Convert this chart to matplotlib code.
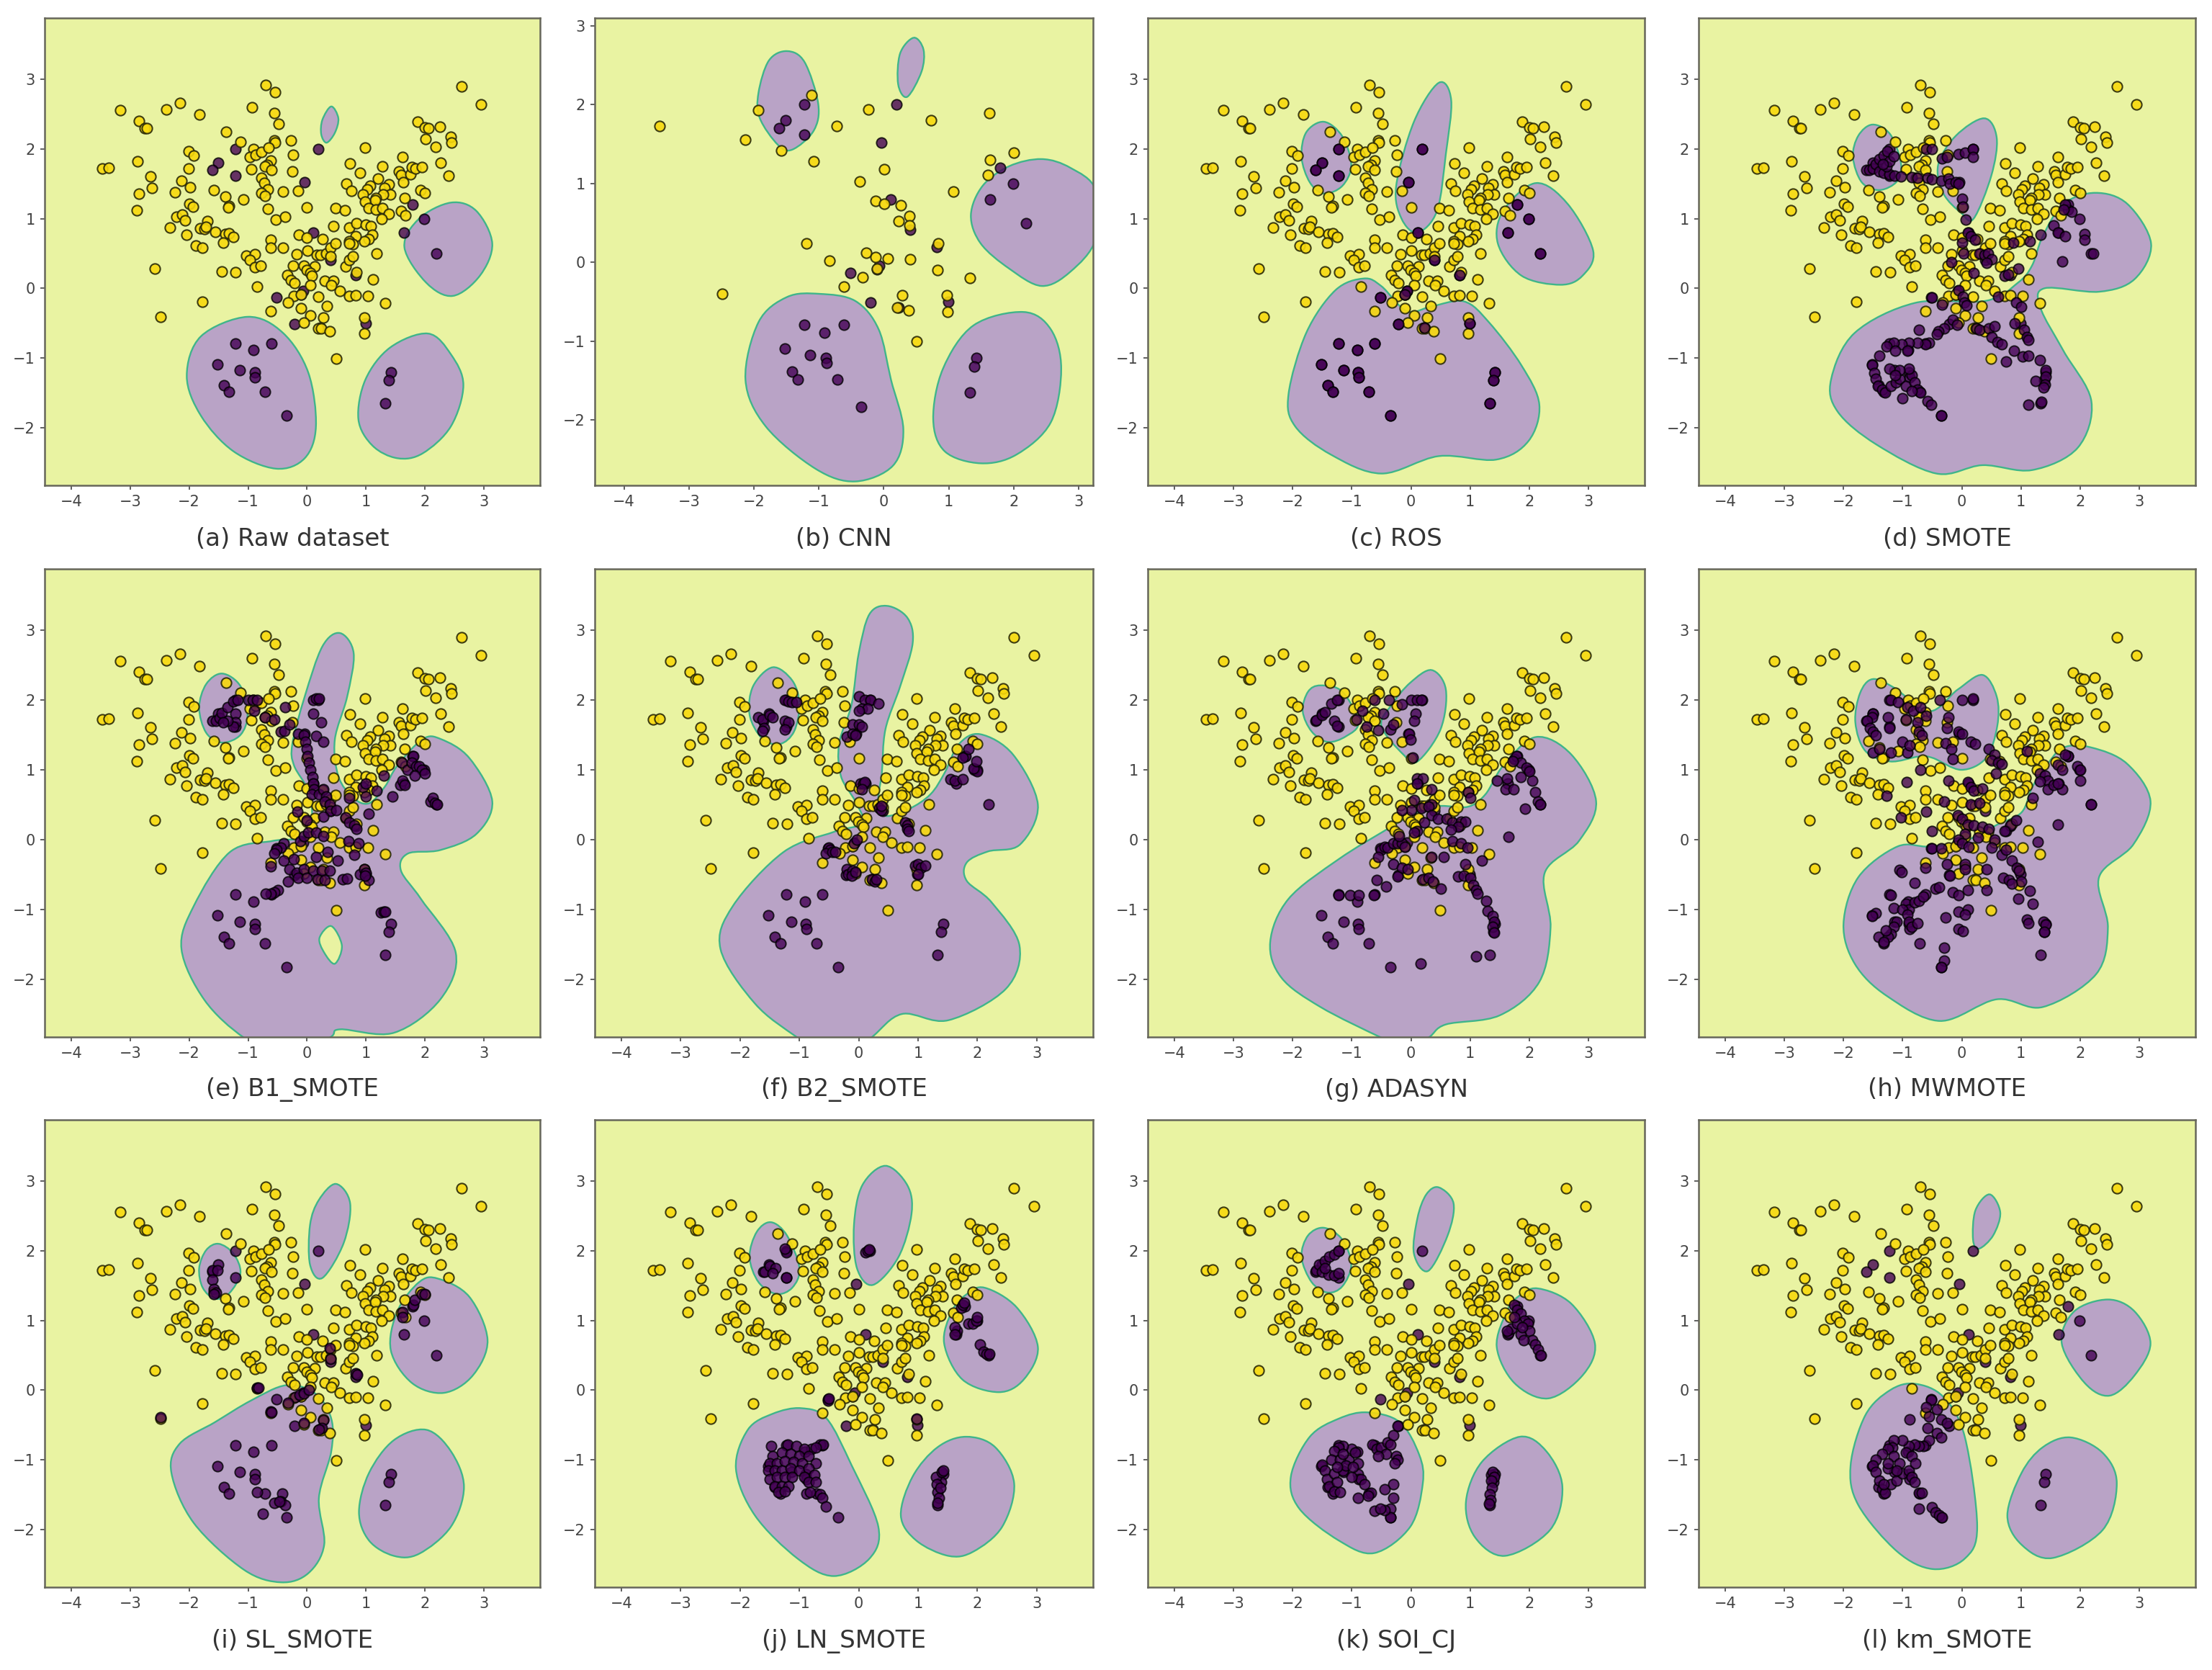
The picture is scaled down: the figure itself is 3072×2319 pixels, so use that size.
import matplotlib
matplotlib.use("Agg")
import matplotlib.pyplot as plt
from matplotlib.path import Path
from matplotlib.patches import PathPatch
import numpy as np

# === Points ===
majority = [(-0.70,2.92),(-0.54,2.81),(2.62,2.90),(2.95,2.64),(-3.17,2.56),(-2.39,2.57),(-2.16,2.66),(-1.82,2.49),
    (-0.93,2.60),(-0.55,2.52),(-0.48,2.36),(-2.85,2.40),(-2.75,2.30),(-2.72,2.30),(-1.37,2.25),(-1.13,2.10),
    (-0.56,2.12),(-0.54,2.09),(-0.27,2.12),(-0.24,1.92),(-0.91,2.00),(-0.97,1.88),(-0.87,1.92),(-0.77,1.96),
    (-0.65,2.02),(-0.62,1.83),(-0.68,1.77),(-0.72,1.75),(-0.61,1.70),(-0.94,1.71),(-0.25,1.68),(-2.01,1.97),
    (-1.92,1.91),(-2.88,1.82),(-2.01,1.72),(-3.47,1.72),(-3.36,1.73),(-2.66,1.61),(-2.63,1.44),(-2.85,1.36),
    (-2.89,1.12),(-2.13,1.54),(-2.24,1.38),(-1.98,1.45),(-1.58,1.41),(-1.39,1.32),(-1.32,1.18),(-1.34,1.16),
    (-1.08,1.27),(-1.99,1.21),(-1.93,1.17),(-0.77,1.58),(-0.73,1.51),(-0.67,1.42),(-0.77,1.37),(-0.71,1.33),
    (-0.41,1.39),(-0.15,1.40),(-0.66,1.14),(-0.53,0.99),(-0.37,1.03),(0.00,1.16),(0.48,1.15),(0.64,1.12),
    (0.45,0.89),(0.67,1.50),(0.75,1.40),(0.73,1.79),(0.90,1.66),(0.98,2.02),(1.28,1.75),(1.62,1.88),
    (1.56,1.68),(1.59,1.63),(1.63,1.52),(1.75,1.64),(1.78,1.74),(1.84,1.72),(1.95,1.74),(1.88,2.39),
    (2.00,2.31),(2.06,2.30),(2.25,2.32),(2.01,2.14),(2.18,2.03),(2.43,2.17),(2.45,2.09),(2.27,1.80),
    (2.40,1.62),(1.92,1.41),(2.00,1.37),(1.20,1.57),(1.07,1.47),(1.02,1.42),(1.38,1.49),(1.31,1.44),
    (1.41,1.35),(1.29,1.35),(1.17,1.30),(1.15,1.26),(0.95,1.35),(0.98,1.24),(1.04,1.15),(1.17,1.13),
    (1.28,1.15),(1.38,1.07),(1.27,1.00),(1.65,1.30),(1.59,1.11),(1.67,1.05),(-2.22,1.03),(-2.12,1.06),
    (-2.07,0.97),(-2.33,0.87),(-2.04,0.77),(-1.88,0.61),(-1.78,0.58),(-1.69,0.96),(-1.81,0.86),(-1.74,0.85),
    (-1.71,0.88),(-1.56,0.81),(-1.39,0.78),(-1.32,0.79),(-1.25,0.74),(-1.42,0.65),(-2.58,0.28),(-2.49,-0.41),
    (-1.45,0.24),(-1.21,0.23),(-1.03,0.47),(-0.88,0.49),(-0.97,0.41),(-0.88,0.30),(-0.79,0.32),(-0.85,0.02),
    (-1.78,-0.19),(-0.62,0.70),(-0.62,0.58),(-0.41,0.58),(-0.14,0.77),(0.00,0.73),(0.26,0.71),(-0.18,0.49),
    (0.01,0.54),(0.17,0.48),(0.23,0.48),(0.32,0.50),(0.40,0.58),(0.48,0.64),(0.40,0.46),(-0.24,0.32),
    (-0.05,0.32),(0.13,0.31),(-0.01,0.26),(0.05,0.22),(-0.33,0.19),(0.08,0.18),(-0.27,0.12),(-0.21,0.08),
    (0.05,0.04),(0.30,0.11),(0.44,0.11),(0.41,0.04),(0.55,-0.04),(0.72,-0.11),(0.82,-0.10),(1.03,-0.11),
    (1.12,0.13),(1.32,-0.21),(0.19,-0.12),(-0.22,-0.11),(-0.10,-0.09),(-0.32,-0.20),(-0.10,-0.29),(0.33,-0.26),
    (-0.62,-0.33),(0.05,-0.39),(0.27,-0.42),(-0.06,-0.49),(0.19,-0.58),(0.24,-0.58),(0.38,-0.62),(0.97,-0.42),
    (0.97,-0.65),(0.49,-1.01),(0.65,0.31),(0.72,0.41),(0.78,0.46),(0.84,0.23),(1.18,0.50),(0.72,0.87),
    (0.84,0.93),(0.99,0.91),(1.08,0.89),(1.10,0.77),(1.04,0.71),(0.97,0.68),(0.82,0.75),(0.72,0.68),
    (0.78,0.63),(0.72,0.64)]

majority_cnn = [(-3.45,1.73),(-2.49,-0.40),(-2.13,1.56),(-1.93,1.93),(-1.11,2.12),(-1.58,1.42),(-1.08,1.28),(-0.73,1.73),
    (-0.24,1.94),(0.73,1.80),(1.62,1.89),(2.00,1.39),(1.64,1.30),(1.60,1.11),(1.07,0.90),(0.01,1.18),
    (-0.37,1.03),(-0.13,0.78),(0.01,0.74),(0.26,0.72),(0.39,0.59),(0.23,0.52),(0.39,0.47),(-1.19,0.24),
    (-0.84,0.02),(-0.27,0.12),(-0.13,0.07),(0.06,0.05),(0.41,0.04),(0.84,0.24),(-0.10,-0.08),(-0.33,-0.19),
    (-0.61,-0.31),(0.83,-0.10),(1.32,-0.20),(0.28,-0.42),(0.21,-0.57),(0.38,-0.61),(0.97,-0.42),(0.98,-0.63),
    (0.50,-1.00)]

minority = [(-1.22,2.00),(0.19,2.00),(-1.51,1.80),(-1.61,1.70),(-1.22,1.62),(-0.04,1.52),(1.79,1.20),(1.99,1.00),
    (1.64,0.80),(2.19,0.50),(0.11,0.80),(0.40,0.41),(0.82,0.19),(-0.07,-0.04),(-0.52,-0.13),(-0.10,-0.09),
    (-0.21,-0.51),(0.23,-0.57),(0.99,-0.50),(-1.22,-0.79),(-0.91,-0.89),(-0.61,-0.79),(-1.52,-1.09),(-1.14,-1.18),
    (-0.89,-1.21),(-0.88,-1.28),(-1.41,-1.39),(-1.32,-1.49),(-0.71,-1.49),(-0.35,-1.83),(1.42,-1.21),(1.39,-1.32),
    (1.33,-1.65)]

# minority samples added by each method
new_ros = minority
new_smote = [(-1.56,1.70),(-1.50,1.72),(-1.45,1.78),(-1.40,1.85),(-1.32,1.91),(-1.26,1.97),(-1.40,1.68),(-1.32,1.66),
    (-1.22,1.64),(-1.14,1.62),(-1.27,1.75),(-1.22,1.82),(-1.15,1.90),(-1.33,1.78),(-1.03,1.61),(-0.85,1.60),
    (-0.75,1.58),(-0.58,1.58),(-0.50,1.56),(-0.35,1.54),(-0.22,1.57),(-0.20,1.50),(-0.10,1.52),(-0.05,1.50),
    (-0.33,1.86),(-0.25,1.88),(-0.05,1.93),(0.05,1.95),(0.19,2.00),(0.19,1.88),(-0.60,2.00),(-0.50,2.00),
    (0.00,1.28),(0.02,1.17),(0.07,0.98),(0.10,0.80),(0.15,0.75),(0.22,0.70),(0.00,0.65),(0.03,0.50),
    (0.30,0.50),(0.38,0.48),(0.44,0.50),(0.50,0.42),(0.42,0.36),(0.20,0.22),(-0.18,0.37),(0.72,0.18),
    (0.78,0.20),(0.95,0.28),(0.87,0.65),(1.15,0.68),(1.33,0.77),(1.55,0.90),(1.62,0.80),(1.75,0.75),
    (1.80,1.13),(1.75,1.20),(1.85,1.10),(1.72,1.13),(2.07,0.78),(2.07,0.70),(2.22,0.50),(1.70,0.39),
    (-0.05,-0.03),(0.02,-0.12),(0.04,-0.20),(0.08,-0.25),(-0.33,-0.24),(-0.50,-0.13),(0.62,-0.12),(0.92,-0.20),
    (1.00,-0.27),(-0.15,-0.45),(-0.08,-0.52),(-0.30,-0.58),(-0.40,-0.62),(-0.42,-0.66),(-0.72,-0.60),(0.25,-0.58),
    (0.30,-0.60),(0.45,-0.58),(0.55,-0.55),(0.50,-0.70),(0.60,-0.77),(0.68,-0.80),(0.90,-0.50),(1.05,-0.60),
    (1.10,-0.70),(1.13,-0.74),(0.88,-0.90),(1.03,-0.98),(1.12,-0.97),(1.32,-1.03),(0.75,-1.05),(1.42,-1.18),
    (1.42,-1.27),(1.40,-1.38),(1.25,-1.33),(1.38,-1.42),(1.13,-1.67),(1.34,-1.63),(-0.55,-0.78),(-0.62,-0.80),
    (-0.75,-0.78),(-0.90,-0.78),(-1.02,-0.80),(-1.15,-0.78),(-1.27,-0.83),(-1.40,-0.97),(-1.52,-1.10),(-1.48,-1.22),
    (-1.45,-1.30),(-1.42,-1.40),(-1.35,-1.45),(-1.30,-1.50),(-1.20,-1.40),(-1.12,-1.35),(-1.05,-1.30),(-0.95,-1.40),
    (-0.85,-1.25),(-0.90,-1.15),(-1.05,-1.18),(-1.22,-1.15),(-1.13,-1.25),(-0.80,-1.35),(-0.75,-1.45),(-0.70,-1.50),
    (-0.58,-1.62),(-0.52,-1.67),(-0.35,-1.83),(-1.00,-1.58),(-0.85,-1.48),(-1.13,-0.90),(-0.92,-0.90)]
new_b1 = [(-1.55,1.70),(-1.48,1.74),(-1.45,1.82),(-1.35,1.90),(-1.25,1.98),(-1.18,2.00),(-1.22,1.80),(-1.22,1.68),
    (-1.25,1.62),(-1.35,1.70),(-1.42,1.68),(-1.00,2.00),(-0.92,2.00),(-0.85,2.00),(-0.90,1.85),(-0.72,1.75),
    (-0.55,1.72),(-0.37,1.90),(-0.45,1.55),(-0.38,1.56),(-0.30,1.65),(0.10,2.00),(0.15,2.02),(0.20,2.02),
    (0.10,1.80),(0.24,1.68),(0.15,1.48),(0.27,1.40),(-0.15,1.52),(-0.05,1.50),(-0.03,1.40),(-0.01,1.30),
    (0.01,1.20),(0.03,1.10),(0.06,1.00),(0.09,0.90),(0.11,0.80),(0.12,0.72),(0.08,0.65),(0.20,0.65),
    (0.28,0.72),(0.32,0.62),(0.30,0.55),(0.38,0.50),(0.40,0.41),(0.50,0.42),(0.65,0.32),(0.72,0.25),
    (0.80,0.20),(0.84,0.15),(-0.17,0.40),(0.00,0.28),(0.27,0.33),(0.72,0.60),(0.95,0.75),(1.00,0.80),
    (1.18,0.70),(0.99,0.62),(1.05,0.37),(1.30,0.92),(1.45,0.62),(1.58,0.78),(1.62,0.85),(1.65,0.78),
    (1.60,1.10),(1.70,1.00),(1.80,1.20),(1.78,1.10),(1.85,1.05),(1.90,1.05),(1.95,1.00),(2.00,0.95),
    (1.82,0.92),(2.10,0.55),(2.13,0.60),(2.17,0.53),(2.20,0.50),(-0.40,-0.05),(-0.45,-0.12),(-0.52,-0.15),
    (-0.55,-0.20),(-0.40,-0.30),(-0.12,-0.02),(-0.05,0.05),(0.02,0.10),(0.15,0.10),(0.27,0.05),(0.70,-0.02),
    (0.87,-0.05),(0.80,-0.22),(0.52,-0.30),(0.35,-0.18),(0.15,-0.25),(-0.22,-0.28),(-0.30,-0.42),(-0.18,-0.48),
    (-0.05,-0.42),(0.10,-0.45),(0.25,-0.45),(0.38,-0.45),(-0.15,-0.55),(0.00,-0.55),(0.18,-0.57),(0.30,-0.58),
    (0.60,-0.57),(0.68,-0.56),(-0.32,-0.60),(0.90,-0.50),(0.97,-0.42),(1.00,-0.48),(1.05,-0.58),(0.98,-0.52),
    (-0.50,-0.72),(-0.55,-0.75),(-0.62,-0.78),(-0.70,-0.78),(-0.62,-0.38),(1.25,-1.04),(1.30,-1.03),(1.33,-1.03)]
new_b2 = [(-1.25,2.00),(-1.18,1.98),(-1.12,1.97),(-1.05,1.97),(-1.70,1.75),(-1.62,1.72),(-1.50,1.78),(-1.45,1.75),
    (-1.60,1.60),(-1.62,1.56),(-1.25,1.70),(-1.18,1.68),(-1.25,1.58),(0.00,2.05),(0.10,2.00),(0.20,2.00),
    (0.33,1.95),(0.05,1.88),(0.15,1.88),(0.00,1.85),(-0.10,1.65),(0.00,1.65),(0.05,1.62),(-0.20,1.47),
    (-0.10,1.52),(-0.05,1.50),(0.03,0.80),(0.08,0.80),(0.10,0.82),(0.05,0.72),(0.35,0.45),(0.38,0.42),
    (0.38,0.48),(0.78,0.25),(0.82,0.20),(0.82,0.15),(0.84,0.12),(1.55,0.87),(1.62,0.84),(1.75,0.87),
    (1.95,1.00),(2.00,0.98),(1.93,1.02),(1.80,1.20),(1.75,1.18),(1.85,1.30),(1.98,1.12),(-0.08,-0.05),
    (-0.03,0.00),(-0.50,-0.12),(-0.48,-0.15),(-0.55,-0.20),(-0.45,-0.18),(-0.40,-0.18),(-0.20,-0.42),(-0.18,-0.50),
    (-0.10,-0.45),(-0.12,-0.52),(-0.05,-0.47),(0.22,-0.57),(0.27,-0.60),(0.30,-0.57),(0.95,-0.37),(1.00,-0.35),
    (1.05,-0.40),(1.00,-0.50),(1.12,-0.37)]
new_adasyn = [(-1.60,1.71),(-1.50,1.78),(-1.45,1.83),(-1.35,1.95),(-1.25,2.00),(-1.30,1.70),(-1.25,1.63),(-0.92,1.72),
    (-0.82,1.85),(-0.75,1.62),(-0.55,1.57),(-0.47,1.80),(-0.62,2.00),(-0.37,2.00),(-0.15,1.94),(0.00,2.00),
    (0.10,2.00),(0.18,2.00),(0.08,1.80),(0.05,1.70),(-0.35,1.58),(-0.30,1.65),(-0.03,1.52),(-0.01,1.43),
    (0.03,1.18),(0.10,0.88),(0.20,0.88),(0.10,0.80),(0.35,0.72),(0.35,0.50),(0.05,0.57),(0.00,0.42),
    (-0.15,0.42),(0.18,0.45),(0.30,0.47),(0.35,0.35),(0.45,0.30),(0.60,0.30),(0.70,0.25),(0.85,0.26),
    (0.92,0.26),(0.80,0.18),(0.67,0.14),(0.22,0.25),(0.10,0.12),(0.05,0.10),(0.70,-0.02),(0.85,-0.05),
    (0.95,-0.12),(0.97,0.68),(1.00,0.60),(1.45,0.85),(1.62,0.88),(1.60,0.72),(1.73,0.72),(1.85,0.90),
    (2.05,0.85),(2.10,0.68),(2.15,0.55),(2.18,0.50),(1.93,0.44),(1.65,0.04),(1.75,1.15),(1.78,1.20),
    (1.85,1.10),(1.95,1.03),(2.00,0.98),(1.72,1.12),(-0.50,-0.15),(-0.45,-0.10),(-0.40,-0.12),(-0.30,-0.05),
    (-0.22,-0.05),(-0.15,-0.05),(-0.10,-0.10),(-0.20,0.05),(-0.55,-0.25),(-0.30,-0.35),(-0.15,-0.40),(-0.05,-0.42),
    (0.35,-0.25),(0.55,-0.25),(0.92,-0.35),(1.20,-0.30),(0.80,-0.53),(0.90,-0.52),(1.00,-0.55),(1.05,-0.65),
    (1.10,-0.72),(1.13,-0.78),(-0.22,-0.53),(0.20,-0.57),(0.30,-0.55),(0.37,-0.60),(0.50,-0.70),(-0.58,-0.58),
    (-0.42,-0.67),(-1.22,-0.80),(-1.03,-0.80),(-0.88,-0.80),(-0.63,-0.80),(1.27,-0.88),(1.30,-1.02),(1.38,-1.10),
    (1.40,-1.18),(1.38,-1.25),(1.40,-1.33),(1.10,-1.67),(0.16,-1.78)]
new_mwmote = [(-1.20,2.00),(-1.08,1.97),(-0.92,1.90),(-0.82,1.85),(-0.70,1.90),(-0.60,1.77),(-0.95,1.72),(-0.75,1.68),
    (-0.72,1.55),(-0.68,1.50),(-0.37,2.00),(0.00,2.00),(0.19,2.02),(-0.22,1.75),(-0.25,1.60),(-0.05,1.55),
    (0.00,1.52),(-0.28,1.38),(-0.18,1.30),(0.15,1.40),(0.22,1.37),(0.45,1.30),(0.55,1.22),(0.50,1.13),
    (0.62,1.10),(0.68,1.08),(0.58,0.95),(-0.15,1.15),(-0.70,1.00),(-0.93,0.82),(-1.50,1.80),(-1.52,1.75),
    (-1.60,1.70),(-1.55,1.60),(-1.50,1.55),(-1.45,1.50),(-1.25,1.75),(-1.22,1.60),(-1.50,1.25),(-1.40,1.30),
    (-1.20,1.25),(-1.00,1.40),(-0.92,1.25),(-0.88,1.35),(1.10,1.27),(1.80,1.20),(1.75,1.22),(1.95,1.05),
    (2.00,1.00),(1.32,0.95),(1.40,0.92),(1.45,0.85),(1.32,0.83),(1.45,0.72),(1.55,0.78),(1.70,0.72),
    (1.62,1.07),(1.70,1.00),(2.00,0.85),(1.20,0.60),(1.63,0.80),(2.19,0.50),(1.62,0.22),(1.28,-0.03),
    (0.10,0.82),(0.15,0.75),(0.20,0.70),(-0.22,0.85),(0.35,0.73),(0.15,0.50),(0.30,0.52),(-0.30,0.55),
    (-0.60,0.40),(-1.03,0.32),(-0.50,0.12),(-1.27,0.63),(-0.07,0.35),(0.00,0.30),(0.10,0.22),(0.20,0.20),
    (0.35,0.18),(0.45,0.15),(0.75,0.12),(0.82,0.20),(0.92,0.28),(0.72,0.12),(0.05,0.08),(-0.05,0.00),
    (0.00,-0.05),(0.12,-0.10),(0.27,0.03),(0.55,0.00),(0.50,-0.12),(-0.50,-0.13),(-0.35,-0.13),(0.68,-0.22),
    (0.75,-0.15),(0.85,-0.30),(0.93,-0.40),(0.97,-0.45),(1.00,-0.60),(0.70,-0.55),(0.80,-0.58),(1.15,-0.73),
    (0.95,-0.85),(1.20,-0.92),(0.85,-0.63),(-0.25,-0.35),(0.05,-0.35),(-0.20,-0.52),(0.05,-0.42),(0.42,-0.42),
    (0.42,-0.72),(-1.05,-0.43),(-1.02,-0.47),(-0.62,-0.40),(-0.80,-0.62),(-0.45,-0.70),(-0.38,-0.68),(-0.15,-0.75),
    (-0.05,-0.80),(0.10,-0.72),(-1.20,-0.80),(-0.95,-0.92),(-0.90,-1.00),(-0.80,-0.90),(-0.72,-0.88),(-0.65,-0.82),
    (-1.15,-0.98),(-1.45,-1.05),(-1.52,-1.10),(-1.00,-1.00),(-0.92,-1.08),(-0.90,-1.18),(-0.85,-1.25),(-1.10,-1.18),
    (-1.15,-1.25),(-1.20,-1.35),(-1.25,-1.40),(-1.32,-1.47),(-1.28,-1.30),(-0.75,-1.20),(-0.27,-1.12),(-0.05,-1.03),
    (0.10,-1.00),(0.05,-1.07),(-0.05,-1.28),(0.02,-1.31),(-0.30,-1.55),(-0.30,-1.74),(-0.35,-1.83),(1.10,-1.15),
    (1.13,-1.20),(1.38,-1.18),(1.42,-1.22),(1.39,-1.32)]
new_sl = [(-1.60,1.72),(-1.52,1.72),(-1.60,1.58),(-1.58,1.45),(-1.55,1.40),(-1.58,1.38),(1.62,1.12),(1.62,1.05),
    (1.80,1.22),(1.83,1.30),(1.95,1.38),(2.00,1.38),(0.38,0.60),(0.40,0.45),(0.82,0.24),(0.85,0.22),
    (-0.85,0.03),(-0.82,0.03),(-2.49,-0.39),(-0.20,-0.10),(-0.13,-0.07),(-0.05,-0.05),(0.03,0.00),(-0.32,-0.18),
    (-0.62,-0.31),(-0.60,-0.32),(-0.05,-0.47),(0.27,-0.43),(0.25,-0.55),(0.20,-0.57),(-0.42,-1.49),(-0.45,-1.60),
    (-0.55,-1.62),(-0.37,-1.65),(-0.85,-1.47),(-0.75,-1.78),(-0.47,-1.60)]
new_ln = [(-1.48,-0.80),(-1.20,-0.78),(-1.05,-0.80),(-0.80,-0.85),(-0.65,-0.78),(-0.60,-0.78),(-0.72,-0.82),(-0.92,-0.85),
    (-1.45,-0.95),(-1.30,-0.90),(-1.15,-0.92),(-1.00,-0.95),(-0.85,-0.95),(-1.50,-1.05),(-1.38,-1.05),(-1.25,-1.02),
    (-1.10,-1.03),(-0.95,-1.05),(-0.72,-1.05),(-1.52,-1.15),(-1.42,-1.15),(-1.30,-1.15),(-1.15,-1.12),(-1.00,-1.15),
    (-0.85,-1.12),(-1.50,-1.28),(-1.38,-1.25),(-1.25,-1.25),(-1.12,-1.25),(-0.92,-1.25),(-0.75,-1.22),(-1.42,-1.38),
    (-1.30,-1.38),(-1.18,-1.38),(-0.85,-1.32),(-0.72,-1.32),(-1.35,-1.47),(-1.25,-1.45),(-0.88,-1.49),(-0.82,-1.47),
    (-0.65,-1.50),(-0.62,-1.55),(-0.55,-1.67),(1.30,-1.25),(1.32,-1.35),(1.33,-1.47),(1.35,-1.55),(1.33,-1.62),
    (1.38,-1.40),(1.40,-1.18),(1.42,-1.15),(2.05,0.65),(2.10,0.55),(2.15,0.52),(2.20,0.52),(1.65,0.85),
    (1.62,0.90),(1.62,0.80),(1.85,0.95),(1.92,0.95),(1.98,1.00),(2.00,1.05),(1.73,1.18),(1.75,1.22),
    (1.78,1.25),(-1.22,1.98),(-1.25,2.03),(-1.58,1.70),(-1.50,1.78),(-1.40,1.75),(-1.45,1.68),(-1.22,1.62),
    (0.12,1.98),(0.15,2.00),(0.18,2.02),(-0.52,-0.15),(-0.50,-0.12),(0.97,-0.41)]
new_soi = [(-1.60,1.72),(-1.55,1.80),(-1.45,1.85),(-1.38,1.92),(-1.30,1.95),(-1.22,2.00),(-1.50,1.70),(-1.40,1.66),
    (-1.30,1.65),(-1.22,1.68),(-1.45,1.75),(1.75,1.22),(1.80,1.15),(1.85,1.10),(1.92,1.00),(1.98,0.95),
    (2.00,0.85),(2.05,0.72),(2.10,0.65),(2.15,0.58),(2.20,0.50),(1.65,0.82),(1.70,0.88),(1.80,0.95),
    (1.85,0.80),(1.90,0.72),(1.75,1.05),(1.62,0.85),(1.88,0.90),(-1.00,-0.85),(-1.15,-0.80),(-1.22,-0.82),
    (-1.30,-0.88),(-1.35,-1.00),(-1.50,-1.07),(-1.45,-1.15),(-1.42,-1.28),(-1.38,-1.38),(-1.30,-1.20),(-1.25,-1.32),
    (-1.15,-1.15),(-1.05,-1.00),(-0.95,-0.90),(-0.90,-1.05),(-0.85,-1.28),(-0.78,-1.35),(-0.68,-1.48),(-0.72,-1.52),
    (-1.20,-1.00),(-1.10,-1.08),(-1.00,-1.25),(-1.15,-0.92),(-1.30,-1.45),(-0.90,-1.55),(-1.20,-1.47),(-1.25,-1.10),
    (-0.98,-1.10),(-0.65,-0.78),(-0.58,-0.85),(-0.50,-0.82),(-0.40,-0.75),(-0.30,-0.65),(-0.22,-0.51),(-0.35,-0.78),
    (-0.42,-0.92),(-0.25,-0.95),(-0.22,-1.00),(-0.28,-1.05),(-0.30,-1.35),(-0.45,-1.42),(-0.30,-1.55),(-0.35,-1.70),
    (-0.35,-1.83),(-0.45,-1.72),(-0.62,-1.73),(-0.52,-1.70),(-0.55,-0.95),(1.36,-1.22),(1.38,-1.18),(1.40,-1.25),
    (1.36,-1.30),(1.37,-1.40),(1.33,-1.50),(1.34,-1.58),(1.32,-1.63)]
new_km = [(-0.52,-0.14),(-0.60,-0.25),(-0.42,-0.28),(-0.35,-0.42),(-0.25,-0.47),(-0.55,-0.38),(-0.58,-0.55),(-0.42,-0.62),
    (-0.35,-0.68),(-0.88,-0.42),(-0.55,-0.72),(-0.65,-0.80),(-0.72,-0.80),(-0.80,-0.78),(-0.90,-0.80),(-1.00,-0.72),
    (-1.15,-0.72),(-1.18,-0.82),(-1.25,-0.85),(-1.35,-0.92),(-1.45,-1.00),(-1.50,-1.08),(-1.45,-1.18),(-1.40,-1.30),
    (-1.35,-1.42),(-1.30,-1.48),(-1.20,-1.35),(-1.10,-1.30),(-1.00,-1.20),(-0.90,-1.15),(-0.85,-1.25),(-0.80,-1.32),
    (-0.72,-1.48),(-0.68,-1.48),(-1.15,-0.95),(-1.05,-1.05),(-0.95,-0.90),(-0.85,-0.95),(-0.78,-1.05),(-1.25,-1.12),
    (-1.10,-1.15),(-1.32,-1.35),(-0.72,-1.70),(-0.50,-1.68),(-0.45,-1.75),(-0.38,-1.80),(-0.34,-1.83),(-1.25,-1.05)]

# === Outlines of the minority decision regions ===
regions_raw = [
    [(0.41,2.61),(0.53,2.44),(0.47,2.23),(0.33,2.09),(0.24,2.21),(0.26,2.42)],
    [(2.44,1.23),(2.87,1.11),(3.14,0.64),(2.93,0.18),(2.47,-0.11),(2.02,0.08),(1.65,0.59),(1.90,1.00)],
    [(-1.01,-0.41),(-0.41,-0.64),(0.02,-1.21),(0.15,-1.98),(-0.04,-2.44),(-0.53,-2.59),(-1.25,-2.34),(-1.80,-1.83),(-2.04,-1.26),(-1.80,-0.69)],
    [(2.05,-0.65),(2.44,-0.95),(2.65,-1.39),(2.44,-1.98),(1.96,-2.37),(1.53,-2.44),(1.11,-2.26),(0.87,-1.88),(0.99,-1.31),(1.41,-0.85)]]
regions_cnn = [
    [(-1.49,2.68),(-1.22,2.54),(-1.01,2.01),(-1.08,1.67),(-1.41,1.43),(-1.63,1.49),(-1.91,1.83),(-1.93,2.15),(-1.77,2.56)],
    [(0.46,2.85),(0.61,2.70),(0.58,2.42),(0.36,2.10),(0.22,2.26),(0.25,2.65)],
    [(2.43,1.31),(2.87,1.20),(3.26,0.92),(3.26,0.29),(2.87,-0.12),(2.43,-0.30),(1.93,-0.08),(1.49,0.24),(1.34,0.60),(1.52,0.97),(1.93,1.22)],
    [(-0.99,-0.40),(-0.44,-0.49),(-0.08,-0.85),(0.11,-1.49),(0.30,-2.12),(0.14,-2.58),(-0.44,-2.78),(-1.05,-2.62),(-1.82,-2.08),(-2.13,-1.49),(-1.93,-0.76),(-1.49,-0.44)],
    [(2.15,-0.63),(2.57,-0.85),(2.73,-1.35),(2.57,-2.03),(2.04,-2.44),(1.49,-2.55),(0.94,-2.40),(0.76,-1.99),(0.91,-1.35),(1.38,-0.80)]]
regions_ros = [
    [(-1.47,2.39),(-1.16,2.18),(-1.01,1.77),(-1.16,1.47),(-1.47,1.36),(-1.71,1.52),(-1.85,1.88),(-1.77,2.24)],
    [(0.47,2.95),(0.68,2.70),(0.59,1.93),(0.44,1.11),(0.11,0.80),(-0.16,1.00),(-0.25,1.47),(0.05,2.39)],
    [(2.11,1.51),(2.65,1.21),(3.08,0.54),(2.90,0.18),(2.53,0.05),(1.87,0.18),(1.47,0.64),(1.56,1.11)],
    [(-0.80,0.14),(-0.50,0.03),(-0.07,-0.33),(0.35,-0.26),(0.90,-0.19),(1.32,-0.49),(1.87,-1.11),(2.17,-1.67),(1.99,-2.19),(1.44,-2.46),(0.47,-2.41),(-0.50,-2.66),(-1.35,-2.39),(-1.96,-1.98),(-2.07,-1.52),(-1.77,-0.64),(-1.28,-0.03)]]
regions_smote = [
    [(-1.51,2.35),(-1.21,2.21),(-1.03,1.80),(-1.09,1.54),(-1.39,1.41),(-1.69,1.52),(-1.84,1.88),(-1.75,2.19)],
    [(0.38,2.44),(0.59,2.16),(0.50,1.62),(0.20,1.00),(-0.01,1.08),(-0.31,1.36),(-0.40,1.77),(-0.10,2.19)],
    [(2.26,1.37),(2.80,1.21),(3.20,0.64),(2.92,0.13),(2.32,-0.05),(1.40,0.00),(1.33,-0.28),(1.72,-0.90),(2.19,-1.62),(1.96,-2.29),(1.19,-2.61),(0.35,-2.54),(-0.43,-2.66),(-1.45,-2.24),(-2.10,-1.77),(-2.21,-1.31),(-1.81,-0.64),(-0.79,-0.21),(0.41,-0.18),(0.95,0.08),(1.19,0.33),(1.37,0.75),(1.72,1.21)]]
regions_b1 = [
    [(-1.44,2.38),(-1.13,2.20),(-1.01,1.79),(-1.13,1.50),(-1.44,1.39),(-1.71,1.53),(-1.83,1.89),(-1.71,2.23)],
    [(0.56,2.96),(0.79,2.67),(0.68,2.05),(0.47,1.43),(0.53,0.91),(0.78,0.60),(1.05,0.52),(1.32,0.76),(1.53,1.06),(1.96,1.44),(2.27,1.44),(2.75,1.17),(3.14,0.55),(2.87,0.08),(2.26,-0.15),(1.71,-0.20),(1.59,-0.44),(1.93,-0.85),(2.52,-1.62),(2.26,-2.29),(1.47,-2.77),(0.56,-2.72),(0.38,-2.84),(-0.35,-3.12),(-1.07,-2.84),(-1.74,-2.30),(-2.13,-1.57),(-1.92,-0.95),(-1.31,-0.18),(-0.59,-0.02),(-0.10,0.03),(0.08,0.29),(0.02,0.70),(-0.22,1.06),(-0.25,1.37),(-0.04,2.05),(0.26,2.77)],
    [(0.41,-1.24),(0.21,-1.41),(0.29,-1.62),(0.47,-1.78),(0.59,-1.52)]]
regions_b2 = [
    [(-1.45,2.47),(-1.12,2.28),(-1.00,1.94),(-1.09,1.55),(-1.33,1.37),(-1.63,1.45),(-1.84,1.79),(-1.78,2.20)],
    [(0.48,3.35),(0.82,3.18),(0.91,2.82),(0.70,2.20),(0.45,1.58),(0.39,0.96),(0.33,0.55),(0.45,0.34),(0.85,0.44),(1.21,0.65),(1.45,0.96),(1.69,1.37),(2.05,1.51),(2.60,1.22),(3.02,0.50),(2.72,-0.07),(2.18,-0.17),(1.82,-0.33),(1.82,-0.59),(2.24,-0.90),(2.71,-1.52),(2.48,-2.14),(1.51,-2.59),(0.73,-2.50),(0.21,-2.84),(-0.35,-3.20),(-1.03,-2.84),(-1.75,-2.35),(-2.33,-1.57),(-2.12,-0.95),(-1.27,-0.18),(-0.42,0.11),(0.06,0.24),(-0.06,0.55),(-0.30,0.91),(-0.33,1.38),(-0.12,1.94),(0.00,2.67),(0.18,3.23)]]
regions_adasyn = [
    [(-1.53,2.21),(-1.16,2.12),(-0.89,1.68),(-1.10,1.48),(-1.41,1.40),(-1.68,1.55),(-1.83,1.84),(-1.74,2.12)],
    [(0.35,2.43),(0.59,2.15),(0.50,1.58),(0.11,1.12),(-0.13,1.22),(-0.50,1.63),(-0.32,1.94),(-0.01,2.25)],
    [(2.11,1.47),(2.71,1.22),(3.13,0.55),(2.84,-0.02),(2.26,-0.48),(2.36,-1.26),(2.17,-2.04),(1.50,-2.52),(0.59,-2.65),(0.29,-2.84),(-0.13,-2.96),(-0.50,-2.84),(-1.53,-2.40),(-2.19,-1.98),(-2.38,-1.47),(-2.07,-0.85),(-1.22,-0.28),(-0.38,0.16),(0.05,0.37),(0.47,0.48),(0.96,0.47),(1.26,0.65),(1.56,1.06)]]
regions_mwmote = [
    [(-1.51,2.30),(-1.15,2.18),(-0.55,1.84),(-0.07,2.15),(0.35,2.36),(0.59,2.05),(0.60,1.63),(0.41,1.17),(-0.01,1.00),(-0.49,1.17),(-0.73,1.19),(-1.21,1.12),(-1.63,1.27),(-1.80,1.68),(-1.72,2.10)],
    [(2.19,1.32),(2.79,1.09),(3.19,0.55),(2.90,-0.07),(2.32,-0.54),(2.47,-1.26),(2.27,-1.93),(1.37,-2.40),(0.59,-2.29),(-0.37,-2.60),(-1.27,-2.24),(-1.81,-1.78),(-2.00,-1.21),(-1.75,-0.54),(-1.09,-0.10),(-0.55,-0.10),(0.05,-0.02),(0.59,0.21),(1.01,0.39),(1.19,0.75),(1.43,1.06),(1.72,1.32)]]
regions_sl = [
    [(-1.50,2.10),(-1.25,1.96),(-1.13,1.68),(-1.32,1.39),(-1.56,1.31),(-1.77,1.47),(-1.83,1.75),(-1.71,2.01)],
    [(0.49,2.96),(0.73,2.68),(0.62,2.11),(0.26,1.61),(0.05,1.80),(0.05,2.37),(0.20,2.73)],
    [(2.22,1.60),(2.75,1.34),(3.06,0.72),(2.81,0.21),(2.32,-0.04),(1.78,0.10),(1.42,0.57),(1.53,1.13),(1.90,1.55)],
    [(-0.35,0.07),(0.14,-0.05),(0.41,-0.41),(0.41,-0.88),(0.20,-1.55),(0.29,-2.22),(0.02,-2.63),(-0.44,-2.76),(-1.07,-2.58),(-1.92,-1.91),(-2.30,-1.19),(-2.16,-0.77),(-1.56,-0.46),(-0.95,-0.15)],
    [(2.02,-0.57),(2.44,-0.88),(2.66,-1.39),(2.44,-1.96),(1.90,-2.35),(1.47,-2.38),(1.05,-2.16),(0.88,-1.75),(1.05,-1.19),(1.47,-0.72)]]
regions_ln = [
    [(-1.48,2.41),(-1.21,2.22),(-1.00,1.75),(-1.12,1.47),(-1.39,1.38),(-1.69,1.55),(-1.84,1.91),(-1.72,2.27)],
    [(0.45,3.22),(0.82,2.94),(0.89,2.53),(0.67,1.91),(0.24,1.51),(-0.03,1.75),(-0.08,2.37),(0.06,2.94)],
    [(2.12,1.47),(2.66,1.19),(3.02,0.62),(2.78,0.15),(2.36,-0.03),(1.75,0.15),(1.44,0.67),(1.57,1.13),(1.81,1.37)],
    [(-0.97,-0.26),(-0.54,-0.41),(-0.12,-1.08),(0.33,-1.96),(0.18,-2.42),(-0.42,-2.67),(-1.03,-2.42),(-1.75,-1.80),(-2.07,-1.13),(-1.87,-0.57),(-1.45,-0.34)],
    [(1.81,-0.67),(2.30,-0.82),(2.62,-1.34),(2.42,-1.96),(1.93,-2.32),(1.51,-2.38),(0.97,-2.16),(0.71,-1.80),(0.91,-1.24),(1.33,-0.82)]]
regions_soi = [
    [(-1.47,2.33),(-1.16,2.16),(-1.01,1.80),(-1.16,1.49),(-1.41,1.40),(-1.68,1.55),(-1.85,1.91),(-1.74,2.22)],
    [(0.47,2.91),(0.72,2.68),(0.62,2.22),(0.29,1.71),(0.05,1.96),(0.11,2.47),(0.26,2.81)],
    [(2.14,1.46),(2.71,1.24),(3.11,0.67),(2.90,0.21),(2.32,-0.12),(1.75,0.10),(1.45,0.62),(1.62,1.13),(1.81,1.34)],
    [(-0.74,-0.32),(-0.19,-0.46),(0.14,-0.93),(0.20,-1.34),(-0.01,-1.96),(-0.62,-2.34),(-1.22,-2.16),(-1.89,-1.70),(-2.03,-1.24),(-1.71,-0.67),(-1.22,-0.41)],
    [(1.84,-0.67),(2.29,-0.88),(2.56,-1.39),(2.35,-2.01),(1.59,-2.38),(1.08,-2.11),(0.93,-1.60),(1.20,-1.03)]]
regions_km = [
    [(0.47,2.81),(0.65,2.55),(0.53,2.22),(0.29,2.03),(0.19,2.16),(0.23,2.58)],
    [(2.47,1.30),(2.92,1.13),(3.19,0.67),(2.92,0.21),(2.50,-0.08),(2.08,0.10),(1.69,0.67),(1.90,1.13)],
    [(-0.79,0.09),(-0.31,-0.10),(0.05,-0.67),(0.26,-1.96),(0.05,-2.42),(-0.49,-2.57),(-1.09,-2.32),(-1.75,-1.65),(-1.88,-1.08),(-1.63,-0.36),(-1.21,0.00)],
    [(1.84,-0.68),(2.38,-0.90),(2.62,-1.34),(2.38,-2.01),(1.54,-2.41),(1.01,-2.22),(0.77,-1.80),(1.01,-1.19),(1.37,-0.82)]]

titles = ["(a) Raw dataset", "(b) CNN", "(c) ROS", "(d) SMOTE", "(e) B1_SMOTE", "(f) B2_SMOTE",
          "(g) ADASYN", "(h) MWMOTE", "(i) SL_SMOTE", "(j) LN_SMOTE", "(k) SOI_CJ", "(l) km_SMOTE"]
region_sets = [regions_raw, regions_cnn, regions_ros, regions_smote, regions_b1, regions_b2,
               regions_adasyn, regions_mwmote, regions_sl, regions_ln, regions_soi, regions_km]
new_points = [[], [], new_ros, new_smote, new_b1, new_b2, new_adasyn, new_mwmote, new_sl, new_ln, new_soi, new_km]

# === Layout in pixels of the 3072x2319 picture ===
W, H = 3072, 2319
COL_EDGES = [(62, 750), (826, 1518), (1594, 2284), (2359, 3049)]
ROW_EDGES = [(25, 674), (790, 1440), (1555, 2204)]
TITLE_Y = [749, 1513, 2279]

BG_COLOR = "#e9f3a2"
REGION_COLOR = "#b9a3c6"
LINE_COLOR = "#3fb58a"
MARKER_SIZE = 105


def closed_curve(vertices):
    # closed bezier path through the outline vertices
    p = np.array(vertices)
    prev_p = np.roll(p, 1, axis=0)
    next_p = np.roll(p, -1, axis=0)
    next2_p = np.roll(p, -2, axis=0)
    c1 = p + (next_p - prev_p) / 6
    c2 = next_p - (next2_p - p) / 6
    verts = [p[0]]
    codes = [Path.MOVETO]
    for i in range(len(p)):
        verts += [c1[i], c2[i], next_p[i]]
        codes += [Path.CURVE4] * 3
    return Path(verts, codes)


def draw_panel(ax, title_idx):
    ax.set_facecolor(BG_COLOR)
    # all outlines go in one path so the hole in (e) stays open
    path = Path.make_compound_path(*[closed_curve(r) for r in region_sets[title_idx]])
    ax.add_patch(PathPatch(path, facecolor=REGION_COLOR, edgecolor=LINE_COLOR, linewidth=1.7, zorder=1))

    base = np.array(minority)
    ax.scatter(base[:, 0], base[:, 1], s=MARKER_SIZE, c="#440154", alpha=0.8, edgecolors="k", linewidths=1.4, zorder=2)
    yellow = np.array(majority_cnn if title_idx == 1 else majority)
    ax.scatter(yellow[:, 0], yellow[:, 1], s=MARKER_SIZE, c="#f8d90c", alpha=0.9, edgecolors="#2a2a08", linewidths=1.5, zorder=3)
    if new_points[title_idx]:
        extra = np.array(new_points[title_idx])
        ax.scatter(extra[:, 0], extra[:, 1], s=MARKER_SIZE, c="#440154", alpha=0.8, edgecolors="k", linewidths=1.4, zorder=4)

    ax.set_xlim(-4.45, 3.22 if title_idx == 1 else 3.95)
    ax.set_ylim(-2.83, 3.10 if title_idx == 1 else 3.88)
    ax.set_xticks(range(-4, 4))
    ax.set_yticks(range(-2, 4))
    ax.tick_params(labelsize=15, labelcolor="#444444", color="#444444", length=4.5, width=1.2, pad=5)
    for spine in ax.spines.values():
        spine.set_color("#66665a")
        spine.set_linewidth(1.8)
        spine.set_zorder(5)


fig = plt.figure(figsize=(W / 100, H / 100), dpi=100, facecolor="white")
idx = 0
for r, (top, bottom) in enumerate(ROW_EDGES):
    for left, right in COL_EDGES:
        ax = fig.add_axes([left / W, 1 - bottom / H, (right - left) / W, (bottom - top) / H])
        draw_panel(ax, idx)
        fig.text((left + right) / 2 / W, 1 - TITLE_Y[r] / H, titles[idx], fontsize=24.5, color="#333333",
                 ha="center", va="center")
        idx += 1

fig.savefig("out.png", dpi=100)
